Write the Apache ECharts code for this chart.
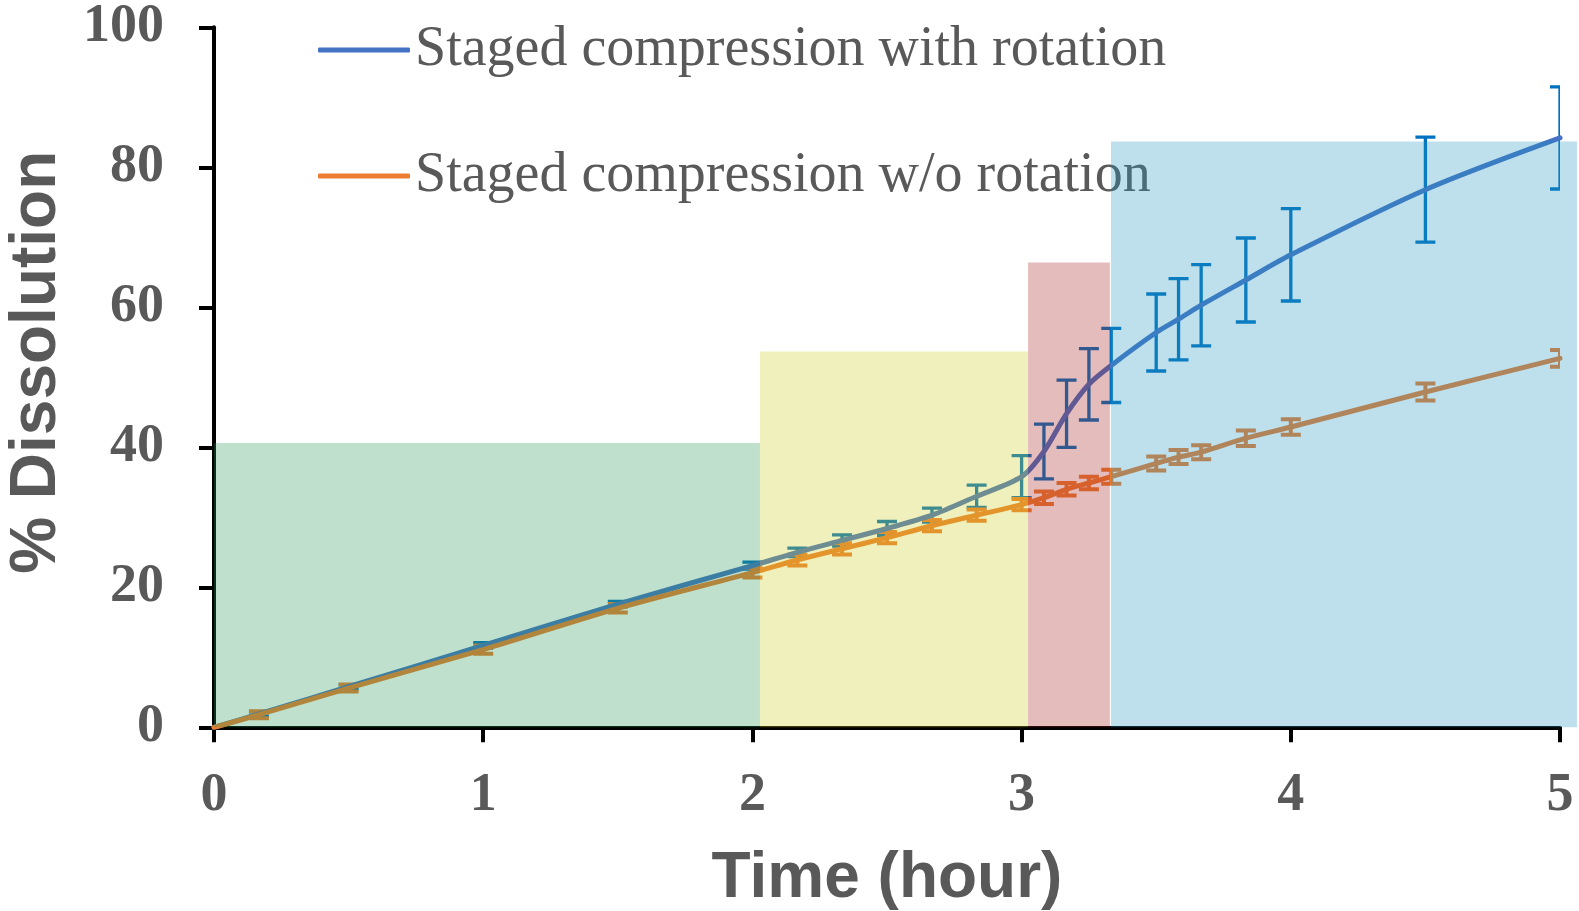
<!DOCTYPE html>
<html>
<head>
<meta charset="utf-8">
<script src="https://cdn.jsdelivr.net/npm/echarts@6/dist/echarts.min.js"></script>
<style>
  html, body { margin: 0; padding: 0; background: #ffffff; }
  #chart { width: 1579px; height: 911px; }
</style>
</head>
<body>
<div id="chart"></div>
<script>
// Sampling times (hours)
const timeHours = [0, 0.167, 0.5, 1, 1.5, 2, 2.167, 2.333, 2.5, 2.667, 2.833, 3,
  3.083, 3.167, 3.25, 3.333, 3.5, 3.583, 3.667, 3.833, 4, 4.5, 5];

// % dissolution, staged compression with rotation (mean and SD)
const withRotationMean = [0, 1.9, 5.8, 11.7, 17.6, 23.1, 25.0, 26.7, 28.4, 30.3, 33.0, 35.8,
  39.4, 44.8, 49.0, 51.7, 56.4, 58.3, 60.3, 63.9, 67.5, 76.8, 84.2];
const withRotationSd = [0, 0.3, 0.3, 0.4, 0.4, 0.5, 0.6, 0.8, 1.0, 1.0, 1.6, 3.0,
  3.9, 4.8, 5.1, 5.3, 5.5, 5.8, 5.8, 6.0, 6.6, 7.5, 7.3];

// % dissolution, staged compression without rotation (mean and SD)
const withoutRotationMean = [0, 1.8, 5.6, 11.1, 17.0, 22.1, 23.9, 25.5, 27.1, 28.8, 30.3, 31.8,
  32.8, 34.0, 34.9, 35.8, 37.7, 38.6, 39.3, 41.3, 42.9, 47.9, 52.7];
const withoutRotationSd = [0, 0.5, 0.5, 0.6, 0.6, 0.7, 0.8, 0.8, 0.8, 0.8, 0.8, 0.8,
  0.9, 0.9, 0.9, 1.0, 1.0, 1.0, 1.0, 1.1, 1.1, 1.2, 1.2];

// Compression stages shaded behind the curves: start/end hour and height (%)
const stageStart = [0, 2.028, 3.024, 3.332];
const stageEnd = [2.028, 3.024, 3.328, 5.063];
const stageTop = [40.6, 53.7, 66.4, 83.7];
const stageColors = ['rgb(42,152,85)', 'rgb(205,205,32)', 'rgb(165,32,32)', 'rgb(35,152,192)'];

const seriesNames = ['Staged compression with rotation', 'Staged compression w/o rotation'];
const lineColors = ['#4472C4', '#ED7D31'];
const barColors = ['#0070C0', '#ED7D31'];

const textGray = '#595959';

function errorBars(mean, sd, color, width) {
  const rows = [];
  timeHours.forEach((t, i) => {
    if (sd[i] > 0) rows.push([t, mean[i] - sd[i], mean[i] + sd[i]]);
  });
  return {
    type: 'custom',
    clip: true,
    silent: true,
    z: 2,
    data: rows,
    encode: { x: 0, y: [1, 2] },
    renderItem(params, api) {
      const lo = api.coord([api.value(0), api.value(1)]);
      const hi = api.coord([api.value(0), api.value(2)]);
      const half = 10;
      const style = { stroke: color, lineWidth: width, fill: null };
      return {
        type: 'group',
        children: [
          { type: 'line', shape: { x1: lo[0], y1: lo[1], x2: hi[0], y2: hi[1] }, style },
          { type: 'line', shape: { x1: hi[0] - half, y1: hi[1], x2: hi[0] + half, y2: hi[1] }, style },
          { type: 'line', shape: { x1: lo[0] - half, y1: lo[1], x2: lo[0] + half, y2: lo[1] }, style }
        ]
      };
    }
  };
}

const stageRows = stageStart.map((s, i) => [s, stageEnd[i], stageTop[i], i]);

const chart = echarts.init(document.getElementById('chart'), null, { renderer: 'canvas' });

chart.setOption({
  animation: false,
  backgroundColor: '#ffffff',
  grid: {
    left: 214, right: 19, top: 27.3, bottom: 183.7,
    containLabel: false,
    outerBoundsMode: 'none'
  },
  legend: {
    data: seriesNames.map((n, i) => ({ name: n, icon: 'roundRect', itemStyle: { color: lineColors[i] } })),
    orient: 'vertical',
    left: 313,
    top: 17,
    itemWidth: 92,
    itemHeight: 5,
    itemGap: 70,
    textStyle: {
      fontFamily: 'Liberation Serif',
      fontSize: 56,
      lineHeight: 56,
      color: textGray
    }
  },
  xAxis: {
    type: 'value',
    min: 0,
    max: 5,
    interval: 1,
    name: 'Time (hour)',
    nameLocation: 'middle',
    nameGap: 120,
    nameTextStyle: { fontFamily: 'Liberation Sans', fontWeight: 'bold', fontSize: 64, color: textGray },
    axisLine: { lineStyle: { color: '#000000', width: 4 } },
    axisTick: { show: true, inside: false, length: 15, lineStyle: { color: '#000000', width: 4 } },
    axisLabel: { margin: 42, fontFamily: 'Liberation Serif', fontWeight: 'bold', fontSize: 54, color: textGray },
    splitLine: { show: false }
  },
  yAxis: {
    type: 'value',
    min: 0,
    max: 100,
    interval: 20,
    name: '% Dissolution',
    nameLocation: 'middle',
    nameRotate: 90,
    nameGap: 145,
    nameTextStyle: {
      fontFamily: 'Liberation Sans', fontWeight: 'bold', fontSize: 64, color: textGray,
      padding: [0, 0, 0, 30]
    },
    axisLine: { show: true, lineStyle: { color: '#000000', width: 4 } },
    axisTick: { show: true, inside: false, length: 15, lineStyle: { color: '#000000', width: 4 } },
    axisLabel: { margin: 50, fontFamily: 'Liberation Serif', fontWeight: 'bold', fontSize: 54, color: textGray },
    splitLine: { show: false }
  },
  series: [
    errorBars(withRotationMean, withRotationSd, barColors[0], 3.3),
    errorBars(withoutRotationMean, withoutRotationSd, barColors[1], 4),
    {
      name: seriesNames[0],
      type: 'line',
      z: 3,
      smooth: 0.3,
      symbol: 'none',
      lineStyle: { color: lineColors[0], width: 5, cap: 'round' },
      itemStyle: { color: lineColors[0] },
      data: timeHours.map((t, i) => [t, withRotationMean[i]])
    },
    {
      name: seriesNames[1],
      type: 'line',
      z: 3,
      smooth: 0.3,
      symbol: 'none',
      lineStyle: { color: lineColors[1], width: 5, cap: 'round' },
      itemStyle: { color: lineColors[1] },
      data: timeHours.map((t, i) => [t, withoutRotationMean[i]])
    },
    {
      // translucent stage bands laid over the curves and axes
      type: 'custom',
      clip: false,
      silent: true,
      z: 10,
      data: stageRows,
      renderItem(params, api) {
        const topLeft = api.coord([api.value(0), api.value(2)]);
        const bottomRight = api.coord([api.value(1), 0]);
        return {
          type: 'rect',
          shape: {
            x: topLeft[0],
            y: topLeft[1],
            width: bottomRight[0] - topLeft[0],
            height: bottomRight[1] - topLeft[1]
          },
          style: { fill: stageColors[api.value(3)], opacity: 0.3 }
        };
      }
    }
  ]
});
</script>
</body>
</html>
